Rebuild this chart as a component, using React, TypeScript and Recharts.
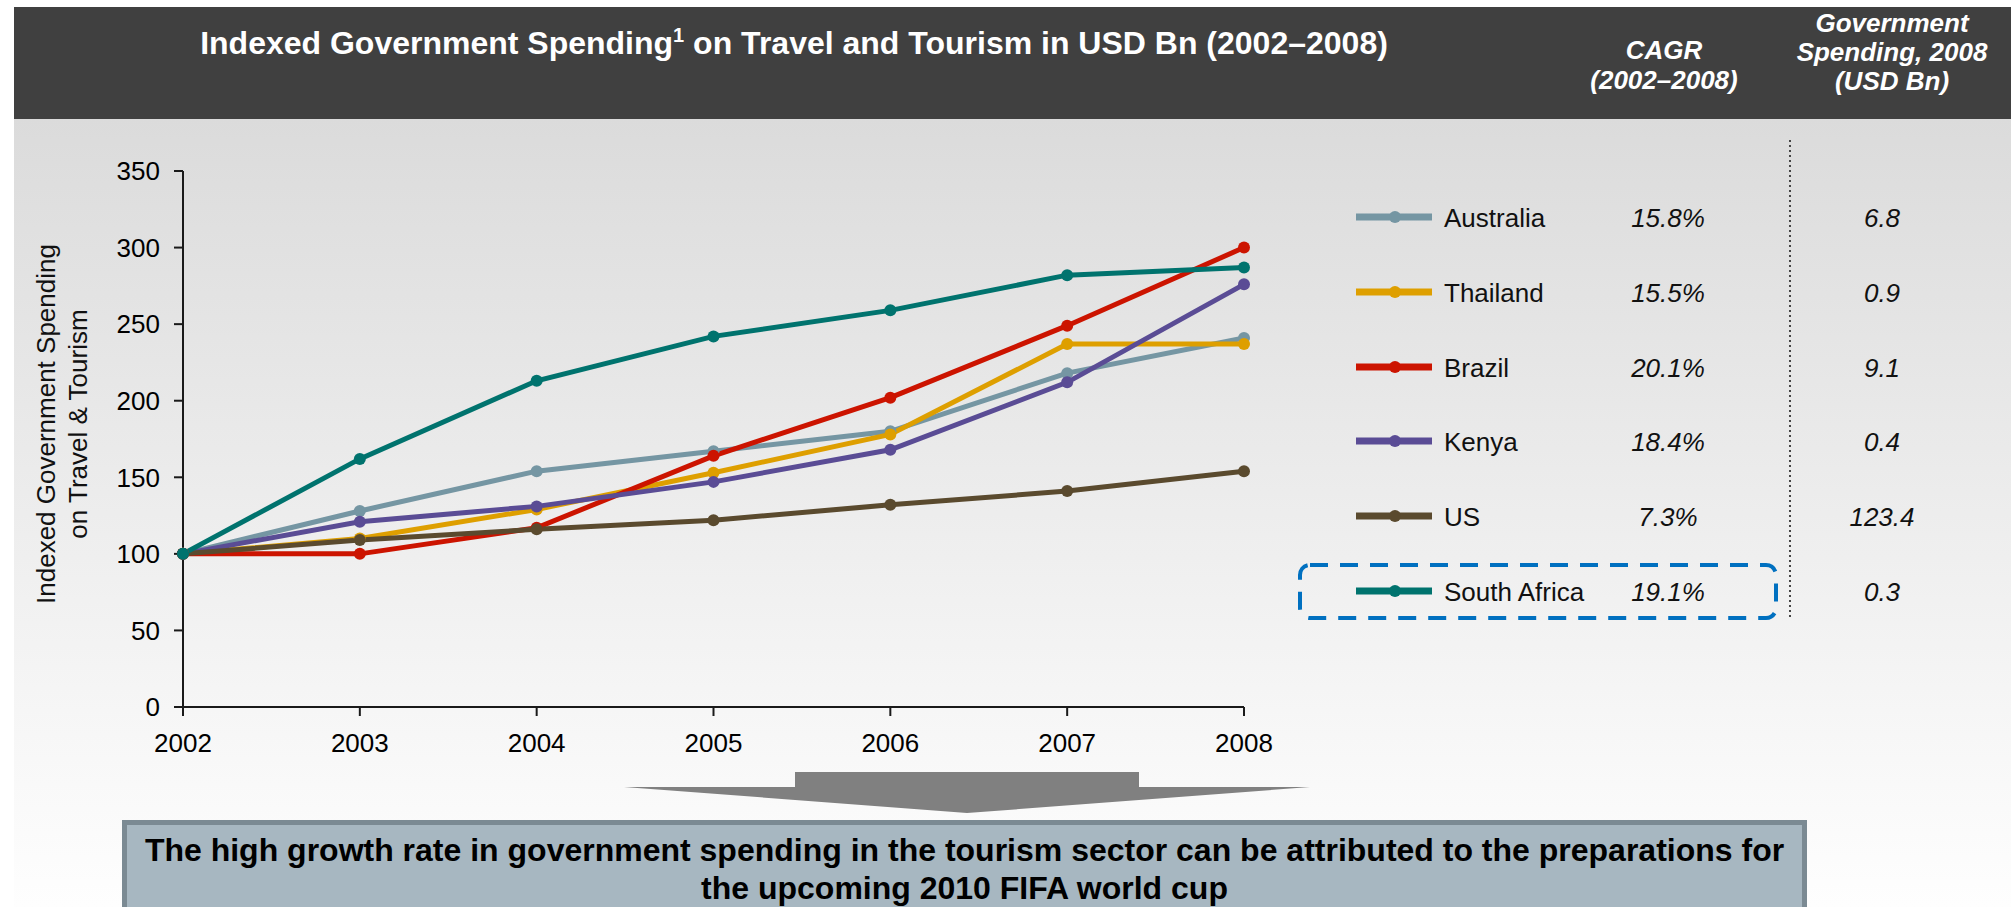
import { Line, LineChart, XAxis, YAxis } from "recharts";

// indexed spending, 2002 = 100
const years = ["2002", "2003", "2004", "2005", "2006", "2007", "2008"];
const australia = [100, 128, 154, 167, 180, 218, 241];
const thailand = [100, 110, 129, 153, 178, 237, 237];
const brazil = [100, 100, 117, 164, 202, 249, 300];
const kenya = [100, 121, 131, 147, 168, 212, 276];
const us = [100, 109, 116, 122, 132, 141, 154];
const southAfrica = [100, 162, 213, 242, 259, 282, 287];

const countries = ["Australia", "Thailand", "Brazil", "Kenya", "US", "South Africa"];
const colors = ["#7596A3", "#DE9F00", "#CC1400", "#5A4C95", "#5A4A2E", "#00736E"];
const cagr = ["15.8%", "15.5%", "20.1%", "18.4%", "7.3%", "19.1%"];
const spending2008 = ["6.8", "0.9", "9.1", "0.4", "123.4", "0.3"];
const yTicks = [0, 50, 100, 150, 200, 250, 300, 350];

const seriesValues = [australia, thailand, brazil, kenya, us, southAfrica];

const data = years.map((year, i) => {
  const row: Record<string, string | number> = { year };
  countries.forEach((c, k) => {
    row[c] = seriesValues[k][i];
  });
  return row;
});

const FONT = "Arial, 'Liberation Sans', sans-serif";
const axisColor = "#1a1a1a";

function LegendSwatch({ color }: { color: string }) {
  return (
    <svg width={76} height={16} style={{ display: "block" }}>
      <line x1={0} y1={8} x2={76} y2={8} stroke={color} strokeWidth={7} />
      <circle cx={39} cy={8} r={6} fill={color} />
    </svg>
  );
}

export default function App() {
  const rowCenter = (i: number) => 218 + i * 74.8;

  return (
    <div
      style={{
        position: "absolute",
        left: 0,
        top: 0,
        width: 2011,
        height: 907,
        overflow: "hidden",
        background: "#ffffff",
        fontFamily: FONT,
      }}
    >
      {/* header band */}
      <div
        style={{
          position: "absolute",
          left: 14,
          top: 7,
          width: 1997,
          height: 112,
          background: "#404040",
          color: "#ffffff",
          fontWeight: "bold",
          fontSize: 26,
        }}
      >
        <div
          style={{
            position: "absolute",
            left: 0,
            width: 1560,
            top: 17,
            textAlign: "center",
            fontSize: 32,
            lineHeight: "38px",
          }}
        >
          Indexed Government Spending<sup style={{ fontSize: 20, lineHeight: 0 }}>1</sup> on Travel and Tourism in USD Bn (2002–2008)
        </div>
        <div
          style={{
            position: "absolute",
            left: 1550,
            width: 200,
            top: 28,
            textAlign: "center",
            fontStyle: "italic",
            lineHeight: "30px",
          }}
        >
          CAGR
          <br />
          (2002–2008)
        </div>
        <div
          style={{
            position: "absolute",
            left: 1764,
            width: 228,
            top: 2,
            textAlign: "center",
            fontStyle: "italic",
            lineHeight: "29px",
          }}
        >
          Government
          <br />
          Spending, 2008
          <br />
          (USD Bn)
        </div>
      </div>

      {/* slide background */}
      <div
        style={{
          position: "absolute",
          left: 14,
          top: 119,
          width: 1997,
          height: 788,
          background: "linear-gradient(#dbdbdb 0%, #f6f6f6 75%, #fefefe 100%)",
        }}
      />

      {/* y axis title */}
      <div
        style={{
          position: "absolute",
          left: 64 - 250,
          top: 424 - 34,
          width: 500,
          height: 68,
          transform: "rotate(-90deg)",
          textAlign: "center",
          fontSize: 26,
          lineHeight: "32px",
          color: "#111",
        }}
      >
        Indexed Government Spending
        <br />
        on Travel &amp; Tourism
      </div>

      <div style={{ position: "absolute", left: 0, top: 0 }}>
        <LineChart
          width={1300}
          height={800}
          data={data}
          margin={{ top: 171, right: 56, bottom: 0, left: 0 }}
        >
          <XAxis
            dataKey="year"
            type="category"
            interval={0}
            height={93}
            tickSize={9}
            tickMargin={18}
            stroke={axisColor}
            strokeWidth={2}
            tick={{ fontSize: 26, fill: "#000", fontFamily: FONT }}
          />
          <YAxis
            domain={[0, 350]}
            ticks={yTicks}
            width={183}
            tickSize={9}
            tickMargin={14}
            stroke={axisColor}
            strokeWidth={2}
            tick={{ fontSize: 26, fill: "#000", fontFamily: FONT }}
          />
          {countries.map((c, k) => (
            <Line
              key={c}
              type="linear"
              dataKey={c}
              stroke={colors[k]}
              strokeWidth={5}
              dot={{ r: 6, fill: colors[k], stroke: colors[k], strokeWidth: 0 }}
              activeDot={false}
              isAnimationActive={false}
            />
          ))}
        </LineChart>
      </div>

      {/* legend with CAGR and 2008 spending */}
      {countries.map((c, i) => (
        <div
          key={c}
          style={{
            position: "absolute",
            left: 0,
            top: rowCenter(i) - 20,
            height: 40,
            width: 2011,
            fontSize: 26,
            color: "#111",
          }}
        >
          <div style={{ position: "absolute", left: 1356, top: 11 }}>
            <LegendSwatch color={colors[i]} />
          </div>
          <div style={{ position: "absolute", left: 1444, top: 0, lineHeight: "40px" }}>{c}</div>
          <div
            style={{
              position: "absolute",
              left: 1568,
              width: 200,
              top: 0,
              lineHeight: "40px",
              textAlign: "center",
              fontStyle: "italic",
            }}
          >
            {cagr[i]}
          </div>
          <div
            style={{
              position: "absolute",
              left: 1782,
              width: 200,
              top: 0,
              lineHeight: "40px",
              textAlign: "center",
              fontStyle: "italic",
            }}
          >
            {spending2008[i]}
          </div>
        </div>
      ))}

      {/* separators, highlight and arrow */}
      <svg
        width={2011}
        height={907}
        style={{ position: "absolute", left: 0, top: 0, pointerEvents: "none" }}
      >
        <line x1={1790} y1={140} x2={1790} y2={617} stroke="#444" strokeWidth={2} strokeDasharray="2 3" />
        <rect
          x={1300}
          y={565}
          width={476}
          height={53}
          rx={10}
          fill="none"
          stroke="#0070C0"
          strokeWidth={4}
          strokeDasharray="18 12"
        />
        <polygon
          points="795,772 1139,772 1139,787 1310,787 967,813 624,787 795,787"
          fill="#808080"
        />
      </svg>

      {/* takeaway box */}
      <div
        style={{
          position: "absolute",
          left: 122,
          top: 820,
          width: 1685,
          height: 92,
          background: "#a7b7c1",
          border: "5px solid #7b8a93",
          textAlign: "center",
          fontWeight: "bold",
          fontSize: 32,
          lineHeight: "38px",
          color: "#000",
          paddingTop: 6,
          boxSizing: "border-box",
          whiteSpace: "nowrap",
        }}
      >
        The high growth rate in government spending in the tourism sector can be attributed to the preparations for
        <br />
        the upcoming 2010 FIFA world cup
      </div>
    </div>
  );
}
